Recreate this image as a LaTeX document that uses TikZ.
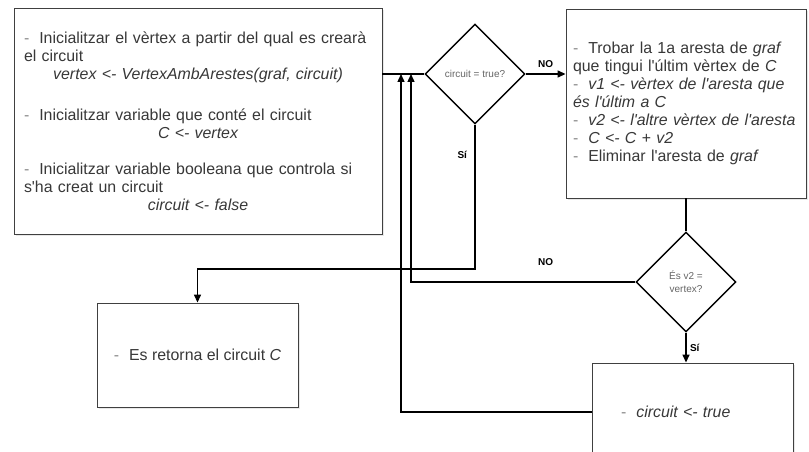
\documentclass[tikz,border=0pt]{standalone}
\usepackage{fontspec}
\setmainfont{Liberation Sans}[Ligatures=TeXOff]
\usepackage{xcolor}
\usetikzlibrary{arrows.meta,positioning,shapes.geometric,shadows}

\definecolor{txtgray}{HTML}{383838}
\definecolor{dashgray}{HTML}{8A8A8A}
\newcommand{\pas}{{\color{dashgray}-}\hspace{10pt}}

\begin{document}
\begin{tikzpicture}[x=1pt, y=1pt,
    caixa/.style={rectangle, draw=black!75, line width=0.9pt, fill=white, drop shadow={opacity=0.18, shadow xshift=2pt, shadow yshift=-2pt}, text=txtgray, font=\fontsize{15.9}{18}\selectfont},
    decisio/.style={diamond, draw, line width=1.4pt, aspect=1, inner sep=0pt, minimum width=100pt, minimum height=100pt, fill=white, text=black!60, font=\fontsize{10}{13}\selectfont, align=center},
    fletxa/.style={-{Triangle[length=8pt,width=7pt]}, line width=1.4pt},
    linia/.style={line width=1.4pt},
    etiq/.style={font=\fontsize{10}{12}\selectfont\bfseries}]
    \path [use as bounding box, fill=white] (0,0) rectangle (809,-452);
    \clip (0,0) rectangle (809,-452);

    \node (ini) [caixa, text width=348pt, inner xsep=10pt, minimum height=226pt, align=left] at (198,-121) {\pas Inicialitzar el vèrtex a partir del qual es crearà\\
        el circuit\\
        \makebox[\linewidth]{\itshape vertex <- VertexAmbArestes(graf, circuit)}\\[23pt]
        \pas Inicialitzar variable que conté el circuit\\
        \makebox[\linewidth]{\itshape C <- vertex}\\[18pt]
        \pas Inicialitzar variable booleana que controla si\\
        s'ha creat un circuit\\
        \makebox[\linewidth]{\itshape circuit <- false}};
    \node (dec1) [decisio] at (475,-74) {circuit = true?};
    \node (trobar) [caixa, text width=226pt, inner xsep=7pt, minimum height=189pt, align=left] at (686,-103.5) {\pas Trobar la 1a aresta de \textit{graf}\\
        que tingui l'últim vèrtex de \textit{C}\\
        \pas\textit{v1 <- vèrtex de l'aresta que}\\
        \textit{és l'últim a C}\\
        \pas\textit{v2 <- l'altre vèrtex de l'aresta}\\
        \pas\textit{C <- C + v2}\\
        \pas Eliminar l'aresta de \textit{graf}};
    \node (dec2) [decisio] at (686,-282) {És v2 =\\vertex?};
    \node (cert) [caixa, minimum width=201pt, minimum height=98pt, text width=143pt, inner xsep=29pt, align=left] at (692.5,-412) {\pas\textit{circuit <- true}};
    \node (retorn) [caixa, minimum width=201pt, minimum height=104pt, align=center] at (197.5,-355) {\pas Es retorna el circuit \textit{C}};

    \coordinate (torna1) at (401,-74);
    \coordinate (torna2) at (411,-74);
    \coordinate (baix) at (475,-269);

    \draw [linia] (dec1.west -| ini.east) -- (dec1.west);
    \draw [fletxa] (dec1.east) -- (dec1.east -| trobar.west) node [etiq, midway, above=2pt] {NO};
    \draw [linia] (trobar.south) -- (dec2.north);
    \draw [fletxa] (dec2.south) -- (dec2.south |- cert.north) node [etiq, midway, right] {Sí};
    \draw [fletxa] (dec2.west) -| (torna2) node [etiq, pos=0.2, above=12pt] {NO};
    \draw [fletxa] (cert.west) -| (torna1);
    \draw [fletxa] (dec1.south) -- (baix) node [etiq, pos=0.21, left=4pt] {Sí} -| (retorn.north);
\end{tikzpicture}
\end{document}
